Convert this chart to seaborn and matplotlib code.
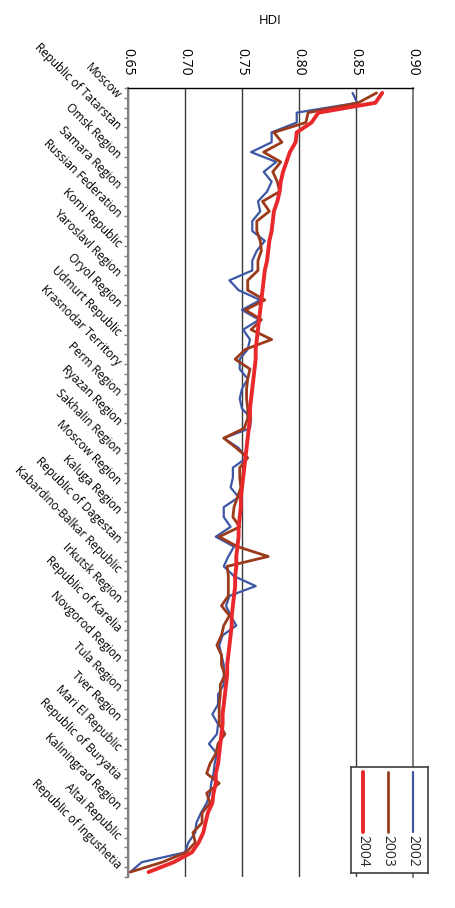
import numpy as np
import pandas as pd
import matplotlib
matplotlib.use("Agg")
import matplotlib.pyplot as plt
import seaborn as sns

# Regions ranked by HDI (only every third one carries a label on the chart)
region_labels = [
    "Moscow", "Republic of Tatarstan", "Omsk Region", "Samara Region",
    "Russian Federation", "Komi Republic", "Yaroslavl Region", "Oryol Region",
    "Udmurt Republic", "Krasnodar Territory", "Perm Region", "Ryazan Region",
    "Sakhalin Region", "Moscow Region", "Kaluga Region", "Republic of Dagestan",
    "Kabardino-Balkar Republic", "Irkutsk Region", "Republic of Karelia",
    "Novgorod Region", "Tula Region", "Tver Region", "Mari El Republic",
    "Republic of Buryatia", "Kaliningrad Region", "Altai Republic",
    "Republic of Ingushetia",
]

hdi_2002 = [
    0.847, 0.851, 0.798, 0.798, 0.776, 0.776, 0.758, 0.780, 0.769, 0.776,
    0.772, 0.764, 0.766, 0.759, 0.759, 0.770, 0.763, 0.759, 0.759, 0.739,
    0.747, 0.766, 0.750, 0.765, 0.751, 0.757, 0.755, 0.748, 0.748, 0.755,
    0.750, 0.748, 0.750, 0.758, 0.757, 0.734, 0.747, 0.754, 0.742, 0.742,
    0.740, 0.747, 0.734, 0.734, 0.740, 0.727, 0.743, 0.738, 0.734, 0.743,
    0.762, 0.739, 0.736, 0.740, 0.745, 0.733, 0.730, 0.732, 0.734, 0.734,
    0.734, 0.729, 0.729, 0.724, 0.729, 0.728, 0.721, 0.728, 0.726, 0.725,
    0.723, 0.722, 0.719, 0.714, 0.710, 0.709, 0.703, 0.700, 0.662, 0.652,
]
hdi_2003 = [
    0.868, 0.852, 0.808, 0.806, 0.778, 0.785, 0.769, 0.784, 0.777, 0.781,
    0.783, 0.768, 0.774, 0.763, 0.763, 0.766, 0.767, 0.764, 0.764, 0.755,
    0.755, 0.770, 0.753, 0.767, 0.758, 0.776, 0.753, 0.744, 0.757, 0.755,
    0.754, 0.754, 0.755, 0.755, 0.752, 0.734, 0.745, 0.755, 0.748, 0.748,
    0.749, 0.746, 0.743, 0.742, 0.748, 0.730, 0.746, 0.773, 0.737, 0.738,
    0.738, 0.738, 0.732, 0.739, 0.734, 0.732, 0.728, 0.732, 0.732, 0.735,
    0.731, 0.731, 0.730, 0.730, 0.730, 0.735, 0.729, 0.727, 0.722, 0.719,
    0.730, 0.719, 0.722, 0.715, 0.715, 0.707, 0.709, 0.701, 0.680, 0.652,
]
hdi_2004 = [
    0.873, 0.867, 0.817, 0.811, 0.798, 0.797, 0.792, 0.789, 0.786, 0.784,
    0.783, 0.781, 0.778, 0.777, 0.776, 0.774, 0.773, 0.772, 0.770, 0.769,
    0.768, 0.767, 0.766, 0.765, 0.764, 0.763, 0.762, 0.762, 0.761, 0.760,
    0.759, 0.758, 0.757, 0.757, 0.756, 0.755, 0.754, 0.753, 0.752, 0.751,
    0.750, 0.749, 0.749, 0.748, 0.747, 0.747, 0.746, 0.745, 0.745, 0.744,
    0.744, 0.743, 0.742, 0.741, 0.741, 0.740, 0.739, 0.738, 0.737, 0.737,
    0.736, 0.735, 0.734, 0.733, 0.733, 0.732, 0.731, 0.730, 0.729, 0.727,
    0.727, 0.725, 0.724, 0.720, 0.718, 0.716, 0.712, 0.706, 0.690, 0.668,
]

years = ["2002", "2003", "2004"]
hdi_ticks = [0.65, 0.70, 0.75, 0.80, 0.85, 0.90]
year_colors = {"2002": "#3d57a5", "2003": "#9c3a1c", "2004": "#e8282b"}
year_widths = {"2002": 1.6, "2003": 2.0, "2004": 2.8}

sns.set_theme(style="white")
plt.rcParams["font.family"] = ["Open Sans", "DejaVu Sans"]

n = len(hdi_2004)
df = pd.DataFrame({
    "pos": np.tile(np.arange(n), len(years)),
    "HDI": hdi_2002 + hdi_2003 + hdi_2004,
    "Year": np.repeat(years, n),
})

fig = plt.figure(figsize=(4.55, 9.08), dpi=100, facecolor="white")
ax = fig.add_axes([128 / 455, 1 - 877 / 908, 285 / 455, 789 / 908])

# the chart is turned on its side: HDI runs across, regions run down
for yr in years:
    sns.lineplot(data=df[df["Year"] == yr], x="HDI", y="pos", orient="y",
                 sort=False, estimator=None, color=year_colors[yr],
                 lw=year_widths[yr], ax=ax)

ax.set_xlim(0.65, 0.90)
ax.set_ylim(n - 0.5, -0.5)

# HDI axis on top, labels read downwards
ax.xaxis.tick_top()
ax.xaxis.set_label_position("top")
ax.set_xticks(hdi_ticks)
ax.set_xticklabels([f"{t:.2f}" for t in hdi_ticks], rotation=-90)
ax.tick_params(axis="x", length=0, pad=9, labelsize=10, colors="black")
ax.set_xlabel("HDI", fontsize=9.5, labelpad=17, color="black")
ax.grid(axis="x", color="#3a3a3a", lw=1)
ax.grid(axis="y", visible=False)

# region labels on every third category, small ticks between categories
ax.set_yticks(range(0, n, 3))
ax.set_yticklabels(region_labels, rotation=-45, ha="right", va="top",
                   rotation_mode="anchor", fontsize=8.5, color="black")
ax.set_yticks(np.arange(-0.5, n, 1), minor=True)
ax.tick_params(axis="y", which="major", length=0, pad=3, left=True)
ax.tick_params(axis="y", which="minor", length=3, width=1, color="#7f7f7f", left=True)
ax.set_ylabel("")

ax.spines["bottom"].set_visible(False)
ax.spines["right"].set_color("#6a6a6a")
ax.spines["right"].set_linewidth(1.2)
ax.spines["top"].set_color("black")
ax.spines["top"].set_linewidth(1)
ax.spines["left"].set_color("#808080")
ax.spines["left"].set_linewidth(1.5)

# legend, turned like the rest of the chart
lax = fig.add_axes([351 / 455, 1 - 873 / 908, 77 / 455, 106 / 908])
lax.set_xlim(0, 1)
lax.set_ylim(0, 1)
lax.set_xticks([])
lax.set_yticks([])
lax.set_facecolor("white")
for s in lax.spines.values():
    s.set_color("#404040")
    s.set_linewidth(1.2)
for xpos, yr in zip([0.16, 0.48, 0.81], ["2004", "2003", "2002"]):
    lax.plot([xpos, xpos], [0.95, 0.39], color=year_colors[yr], lw=year_widths[yr],
             solid_capstyle="round")
    lax.text(xpos, 0.36, yr, rotation=-90, ha="center", va="top", fontsize=10)

fig.savefig("out.png", dpi=100, facecolor="white")
